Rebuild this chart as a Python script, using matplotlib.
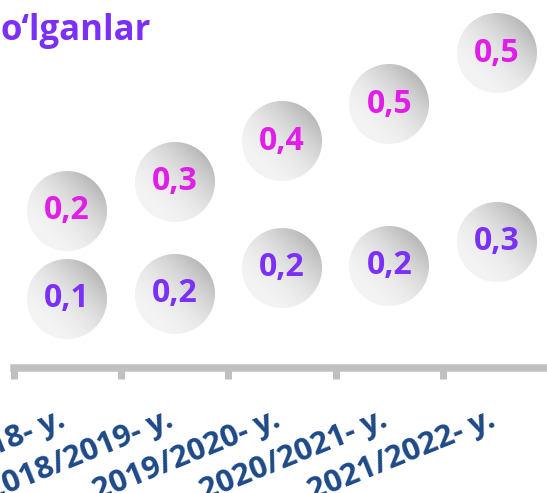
import matplotlib
matplotlib.use('Agg')
import matplotlib.pyplot as plt
from matplotlib.offsetbox import OffsetImage, AnnotationBbox
import numpy as np

# data
years = ['2017/2018- y.', '2018/2019- y.', '2019/2020- y.', '2020/2021- y.', '2021/2022- y.']
lower = [0.14, 0.151, 0.205, 0.21, 0.26]
upper = [0.249, 0.304, 0.381, 0.451, 0.548]

title = 'o\u2018lganlar'

purple = '#7b2ff7'
magenta = '#e01ee8'
navy = '#1d4a87'
grey = '#c0c0c0'

plt.rcParams['font.family'] = ['Open Sans', 'DejaVu Sans']


def bubble(size=80):
    # round grey ball, light bottom-left, darker top-right
    c = (np.arange(size) - (size - 1) / 2) / (size / 2)
    xx, yy = np.meshgrid(c, -c)
    r = np.sqrt(xx ** 2 + yy ** 2)
    t = np.clip(((xx + yy) / np.sqrt(2) + 1) / 2, 0, 1)
    v = (244 - 60 * t ** 2) / 255
    img = np.zeros((size, size, 4))
    img[..., 0] = v
    img[..., 1] = v
    img[..., 2] = v
    img[..., 3] = np.clip((1 - r) * size / 2 + 0.5, 0, 1)
    return img


ball = bubble()

fig = plt.figure(figsize=(5.47, 4.93), dpi=100)
ax = fig.add_axes([13.5 / 547, 125.25 / 493, 537 / 547, 367.75 / 493])
ax2 = ax.twinx()

x = np.arange(len(years))

for a, vals, col in [(ax, lower, purple), (ax2, upper, magenta)]:
    for xi, v in zip(x, vals):
        ab = AnnotationBbox(OffsetImage(ball, dpi_cor=False), (xi, v),
                            frameon=False, pad=0, zorder=2)
        a.add_artist(ab)
        a.text(xi, v, f'{v:.1f}'.replace('.', ','), ha='center', va='center',
               fontsize=23, fontweight='bold', color=col, zorder=3)

ax.set_xlim(-0.5, len(years) - 0.5)
ax.set_ylim(-0.004, 0.7662)
ax2.set_ylim(-0.0491, 0.6491)

for a in (ax, ax2):
    for s in a.spines.values():
        s.set_visible(False)
    a.set_yticks([])
ax.spines['bottom'].set_visible(True)
ax.spines['bottom'].set_color(grey)
ax.spines['bottom'].set_linewidth(5.4)

ax.set_xticks(np.arange(-0.5, len(years), 1.0))
ax.set_xticklabels([])
ax.set_xticks(x, minor=True)
ax.set_xticklabels(years, minor=True)
ax.tick_params(axis='x', which='major', length=7.6, width=5, color=grey)
ax.tick_params(axis='x', which='minor', length=0, pad=42)
for lab in ax.get_xticklabels(minor=True):
    lab.set_rotation(22)
    lab.set_rotation_mode('anchor')
    lab.set_ha('right')
    lab.set_va('baseline')
    lab.set_fontsize(22.5)
    lab.set_fontweight('bold')
    lab.set_color(navy)

fig.text(0.0, 453 / 493, title, ha='left', va='baseline', fontsize=25,
         fontweight='bold', color=purple)

fig.savefig('out.png', dpi=100)
